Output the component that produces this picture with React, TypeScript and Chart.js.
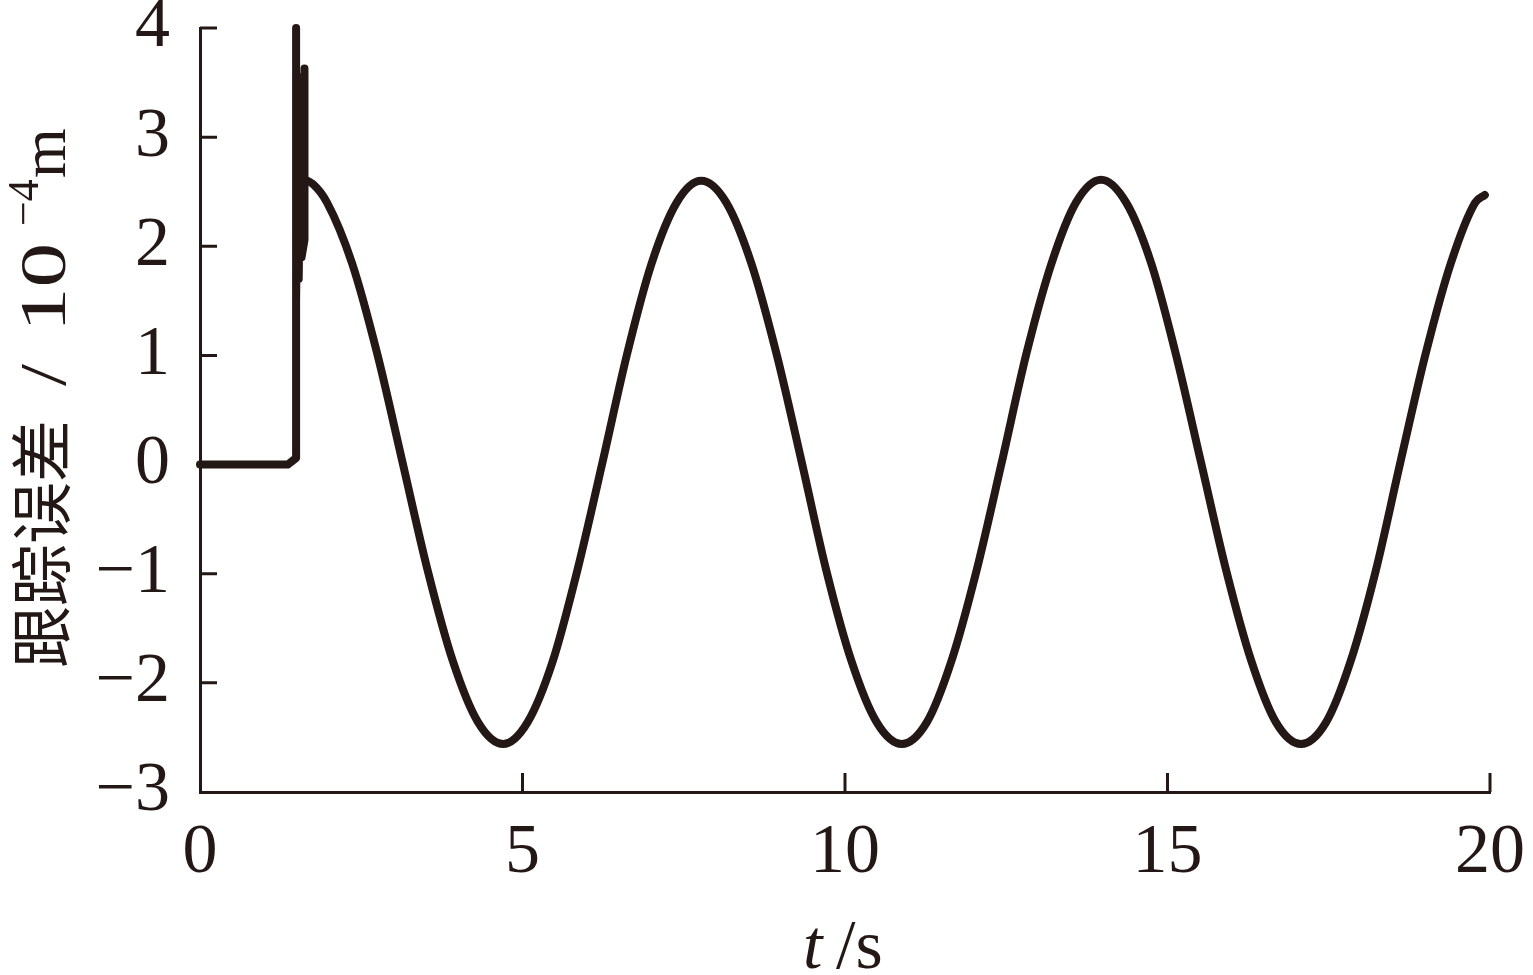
import React, { useEffect, useRef } from "react";
import { Chart, registerables } from "chart.js";

Chart.register(...registerables);

// ---- data ----
// start-up phase: zero error, then the switching spike
const startTime = [0, 1.36, 1.49, 1.49, 1.49, 1.53, 1.53, 1.575, 1.575, 1.62, 1.62];
const startError = [0, 0, 0.06, 4.0, 1.5, 3.55, 1.7, 3.55, 1.9, 2.06, 3.63];

// steady oscillation
const waveTime = [
  1.58, 1.75, 1.97, 2.36, 2.75, 3.14, 3.53, 3.92, 4.31, 4.7,
  5.08, 5.47, 5.85, 6.24, 6.62, 7.0, 7.39, 7.77,
  8.16, 8.55, 8.94, 9.33, 9.71, 10.1, 10.49, 10.88,
  11.27, 11.65, 12.04, 12.43, 12.81, 13.2, 13.58, 13.97,
  14.36, 14.75, 15.13, 15.52, 15.91, 16.3, 16.68, 17.07,
  17.46, 17.84, 18.23, 18.61, 19.0, 19.39, 19.77, 19.92,
];
const waveError = [
  2.62, 2.57, 2.4, 1.84, 1.01, 0.02, -0.97, -1.8, -2.36, -2.56,
  -2.36, -1.8, -0.97, 0.02, 1.01, 1.84, 2.4, 2.6,
  2.4, 1.84, 1.01, 0.02, -0.97, -1.8, -2.36, -2.56,
  -2.36, -1.8, -0.97, 0.02, 1.01, 1.84, 2.4, 2.61,
  2.4, 1.84, 1.01, 0.02, -0.97, -1.8, -2.36, -2.56,
  -2.36, -1.8, -0.97, 0.02, 1.01, 1.84, 2.4, 2.47,
];

const xTickValues = [0, 5, 10, 15, 20];
const yTickValues = [-3, -2, -1, 0, 1, 2, 3, 4];

const xTitleVar = "t";
const xTitleUnit = "/s";
const yTitleText = "跟踪误差";
const yTitleSlash = "/";
const yTitleScale = "10";
const yTitleExp = "−4";
const yTitleUnit = "m";

const INK = "#231815";
const SERIF = "'Liberation Serif', 'Times New Roman', serif";
const CJK = "'Noto Sans CJK SC', 'Noto Sans CJK JP', sans-serif";

export default function App() {
  const canvasRef = useRef<HTMLCanvasElement | null>(null);

  useEffect(() => {
    const canvas = canvasRef.current;
    if (!canvas) return;

    const tickMarks = {
      id: "tickMarks",
      afterDraw(chart: any) {
        const { ctx, chartArea } = chart;
        const xs = chart.scales.x;
        const ys = chart.scales.y;
        ctx.save();
        ctx.strokeStyle = INK;
        ctx.lineWidth = 3;
        ctx.lineCap = "butt";
        ctx.beginPath();
        xTickValues.forEach((v) => {
          if (v === xTickValues[0]) return;
          const px = xs.getPixelForValue(v);
          ctx.moveTo(px, chartArea.bottom);
          ctx.lineTo(px, chartArea.bottom - 19);
        });
        yTickValues.forEach((v) => {
          if (v === yTickValues[0]) return;
          const py = ys.getPixelForValue(v);
          ctx.moveTo(chartArea.left, py);
          ctx.lineTo(chartArea.left + 17, py);
        });
        ctx.stroke();
        ctx.restore();
      },
    };

    const drawStretched = (ctx: any, text: string, x: number, y: number, sx: number) => {
      ctx.save();
      ctx.translate(x, y);
      ctx.scale(sx, 1);
      ctx.fillText(text, 0, 0);
      ctx.restore();
    };

    const axisTitles = {
      id: "axisTitles",
      afterDraw(chart: any) {
        const { ctx } = chart;
        ctx.save();
        ctx.fillStyle = INK;
        ctx.textBaseline = "alphabetic";
        ctx.textAlign = "left";

        // x title
        const by = 968;
        ctx.font = `italic 70px ${SERIF}`;
        ctx.fillText(xTitleVar, 803, by);
        ctx.font = `70px ${SERIF}`;
        ctx.fillText(xTitleUnit, 836, by);

        // y title (rotated, reading bottom to top)
        ctx.translate(65, 668);
        ctx.rotate(-Math.PI / 2);
        ctx.font = `62px ${CJK}`;
        ctx.fillText(yTitleText, 0, 0);
        ctx.font = `66px ${SERIF}`;
        drawStretched(ctx, yTitleSlash, 282, 0, 1.2);
        drawStretched(ctx, yTitleScale, 336, 0, 1.35);
        ctx.font = `44px ${SERIF}`;
        drawStretched(ctx, yTitleExp, 442, -27, 1.0);
        ctx.font = `64px ${SERIF}`;
        drawStretched(ctx, yTitleUnit, 490, 0, 1.0);
        ctx.restore();
      },
    };

    const chart = new Chart(canvas, {
      type: "line",
      data: {
        datasets: [
          {
            data: startTime.map((t, i) => ({ x: t, y: startError[i] })),
            borderColor: INK,
            borderWidth: 8,
            pointRadius: 0,
            tension: 0,
            fill: false,
            borderCapStyle: "round",
            borderJoinStyle: "round",
            clip: false,
          },
          {
            data: waveTime.map((t, i) => ({ x: t, y: waveError[i] })),
            borderColor: INK,
            borderWidth: 8,
            pointRadius: 0,
            cubicInterpolationMode: "monotone",
            fill: false,
            borderCapStyle: "round",
            borderJoinStyle: "round",
            clip: false,
          },
        ],
      },
      options: {
        animation: false,
        responsive: false,
        devicePixelRatio: 1,
        events: [],
        layout: { padding: { left: 0, top: 28, right: 43, bottom: 0 } },
        plugins: {
          legend: { display: false },
          tooltip: { enabled: false },
          title: { display: false },
        },
        scales: {
          x: {
            type: "linear",
            min: 0,
            max: 20,
            afterBuildTicks: (s: any) => {
              s.ticks = xTickValues.map((v) => ({ value: v }));
            },
            afterFit: (s: any) => {
              s.height = 183;
              s.paddingLeft = 0;
              s.paddingRight = 0;
            },
            grid: { display: false, drawTicks: false },
            border: { display: true, color: INK, width: 3 },
            ticks: {
              padding: 20,
              color: INK,
              font: { family: SERIF, size: 70 },
              maxRotation: 0,
              autoSkip: false,
              callback: (v: any) => String(v),
            },
          },
          y: {
            type: "linear",
            min: -3,
            max: 4,
            afterBuildTicks: (s: any) => {
              s.ticks = yTickValues.map((v) => ({ value: v }));
            },
            afterFit: (s: any) => {
              s.width = 200;
              s.paddingTop = 0;
              s.paddingBottom = 0;
            },
            grid: { display: false, drawTicks: false },
            border: { display: true, color: INK, width: 3 },
            ticks: {
              padding: 30,
              color: INK,
              font: { family: SERIF, size: 70 },
              autoSkip: false,
              callback: (v: any) => (v < 0 ? "−" + Math.abs(v) : String(v)),
            },
          },
        },
      },
      plugins: [tickMarks, axisTitles],
    } as any);

    return () => chart.destroy();
  }, []);

  return (
    <div
      style={{
        position: "fixed",
        left: 0,
        top: 0,
        width: 1533,
        height: 975,
        background: "#ffffff",
      }}
    >
      <canvas ref={canvasRef} width={1533} height={975} style={{ display: "block" }} />
    </div>
  );
}
